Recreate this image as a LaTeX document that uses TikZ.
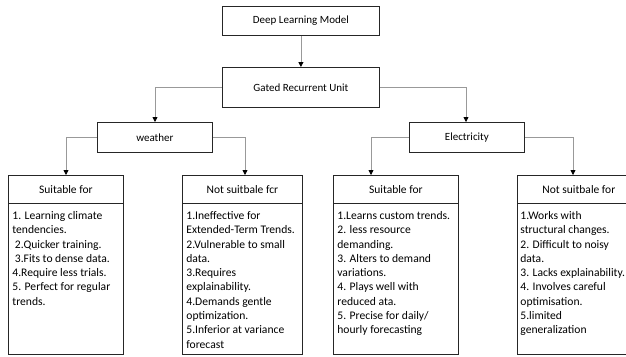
\documentclass[tikz,border=0pt]{standalone}
\usepackage{fontspec}
\setmainfont{Carlito}
\usetikzlibrary{arrows.meta}
\begin{document}
\begin{tikzpicture}[x=1pt,y=-1pt,
  box/.style={draw=black!85,line width=0.8pt,rectangle,inner sep=0pt,
    anchor=north west,font=\fontsize{11}{13}\selectfont},
  head/.style={draw=black!85,line width=0.8pt,rectangle,inner sep=0pt,
    anchor=north west,font=\fontsize{11.5}{14}\selectfont},
  body/.style={draw=black!85,line width=0.8pt,rectangle,inner xsep=4pt,
    inner ysep=5pt,anchor=north west,font=\fontsize{11.6}{14.3}\selectfont},
  link/.style={draw=black!40,line width=0.8pt,
    -{Triangle[length=5pt,width=5pt,black]}},
]
\useasboundingbox (0,0) rectangle (626,356);
\begin{scope}
\clip (0,0) rectangle (626,356);

% upper chain
\node[box,minimum width=157pt,minimum height=29pt] (dlm) at (222,6) {Deep Learning Model};
\node[box,minimum width=157pt,minimum height=40pt] (gru) at (222,67) {Gated Recurrent Unit};
\node[box,minimum width=115pt,minimum height=30pt] (wea) at (97,122) {weather};
\node[box,minimum width=115pt,minimum height=30pt] (ele) at (409,122) {Electricity};

% lower boxes: header + body (body text pinned to the top of a fixed-height box)
\newcommand{\bodytext}[2]{\parbox[c][141pt][t]{#1}{\vspace*{3pt}#2}}
\node[head,minimum width=115pt,minimum height=28pt] (h1) at (8,175) {Suitable for};
\node[body] (b1) at (8,203) {\bodytext{107pt}{%
1. Learning climate\\
tendencies.\\
\hspace*{2.5pt}2.Quicker training.\\
\hspace*{2.5pt}3.Fits to dense data.\\
4.Require less trials.\\
5. Perfect for regular\\
trends.}};

\node[head,minimum width=120pt,minimum height=28pt] (h2) at (182,175) {Not suitbale fcr};
\node[body] (b2) at (182,203) {\bodytext{112pt}{%
1.Ineffective for\\
Extended-Term Trends.\\
2.Vulnerable to small\\
data.\\
3.Requires\\
explainability.\\
4.Demands gentle\\
optimization.\\
5.Inferior at variance\\
forecast}};

\node[head,minimum width=125pt,minimum height=28pt] (h3) at (333,175) {Suitable for};
\node[body] (b3) at (333,203) {\bodytext{117pt}{%
1.Learns custom trends.\\
2. less resource\\
demanding.\\
3. Alters to demand\\
variations.\\
4. Plays well with\\
reduced ata.\\
5. Precise for daily/\\
hourly forecasting}};

\node[head,minimum width=123pt,minimum height=28pt] (h4) at (517,175) {Not suitbale for};
\node[body,inner xsep=3pt] (b4) at (517,203) {\bodytext{117pt}{%
1.Works with\\
structural changes.\\
2. Difficult to noisy\\
data.\\
3. Lacks explainability.\\
4. Involves careful\\
optimisation.\\
5.limited\\
generalization}};

% connectors
\draw[link] (dlm.south) -- (gru.north);
\draw[link] (gru.west |- 0,87) -| (wea.north -| 155,0);
\draw[link] (gru.east |- 0,87) -| (ele.north -| 466,0);
\draw[link] (wea.west |- 0,137) -| (h1.north -| 66,0);
\draw[link] (wea.east |- 0,137) -| (h2.north -| 245,0);
\draw[link] (ele.west |- 0,137) -| (h3.north -| 371,0);
\draw[link] (ele.east |- 0,137) -| (h4.north -| 573,0);
\end{scope}
\end{tikzpicture}
\end{document}
